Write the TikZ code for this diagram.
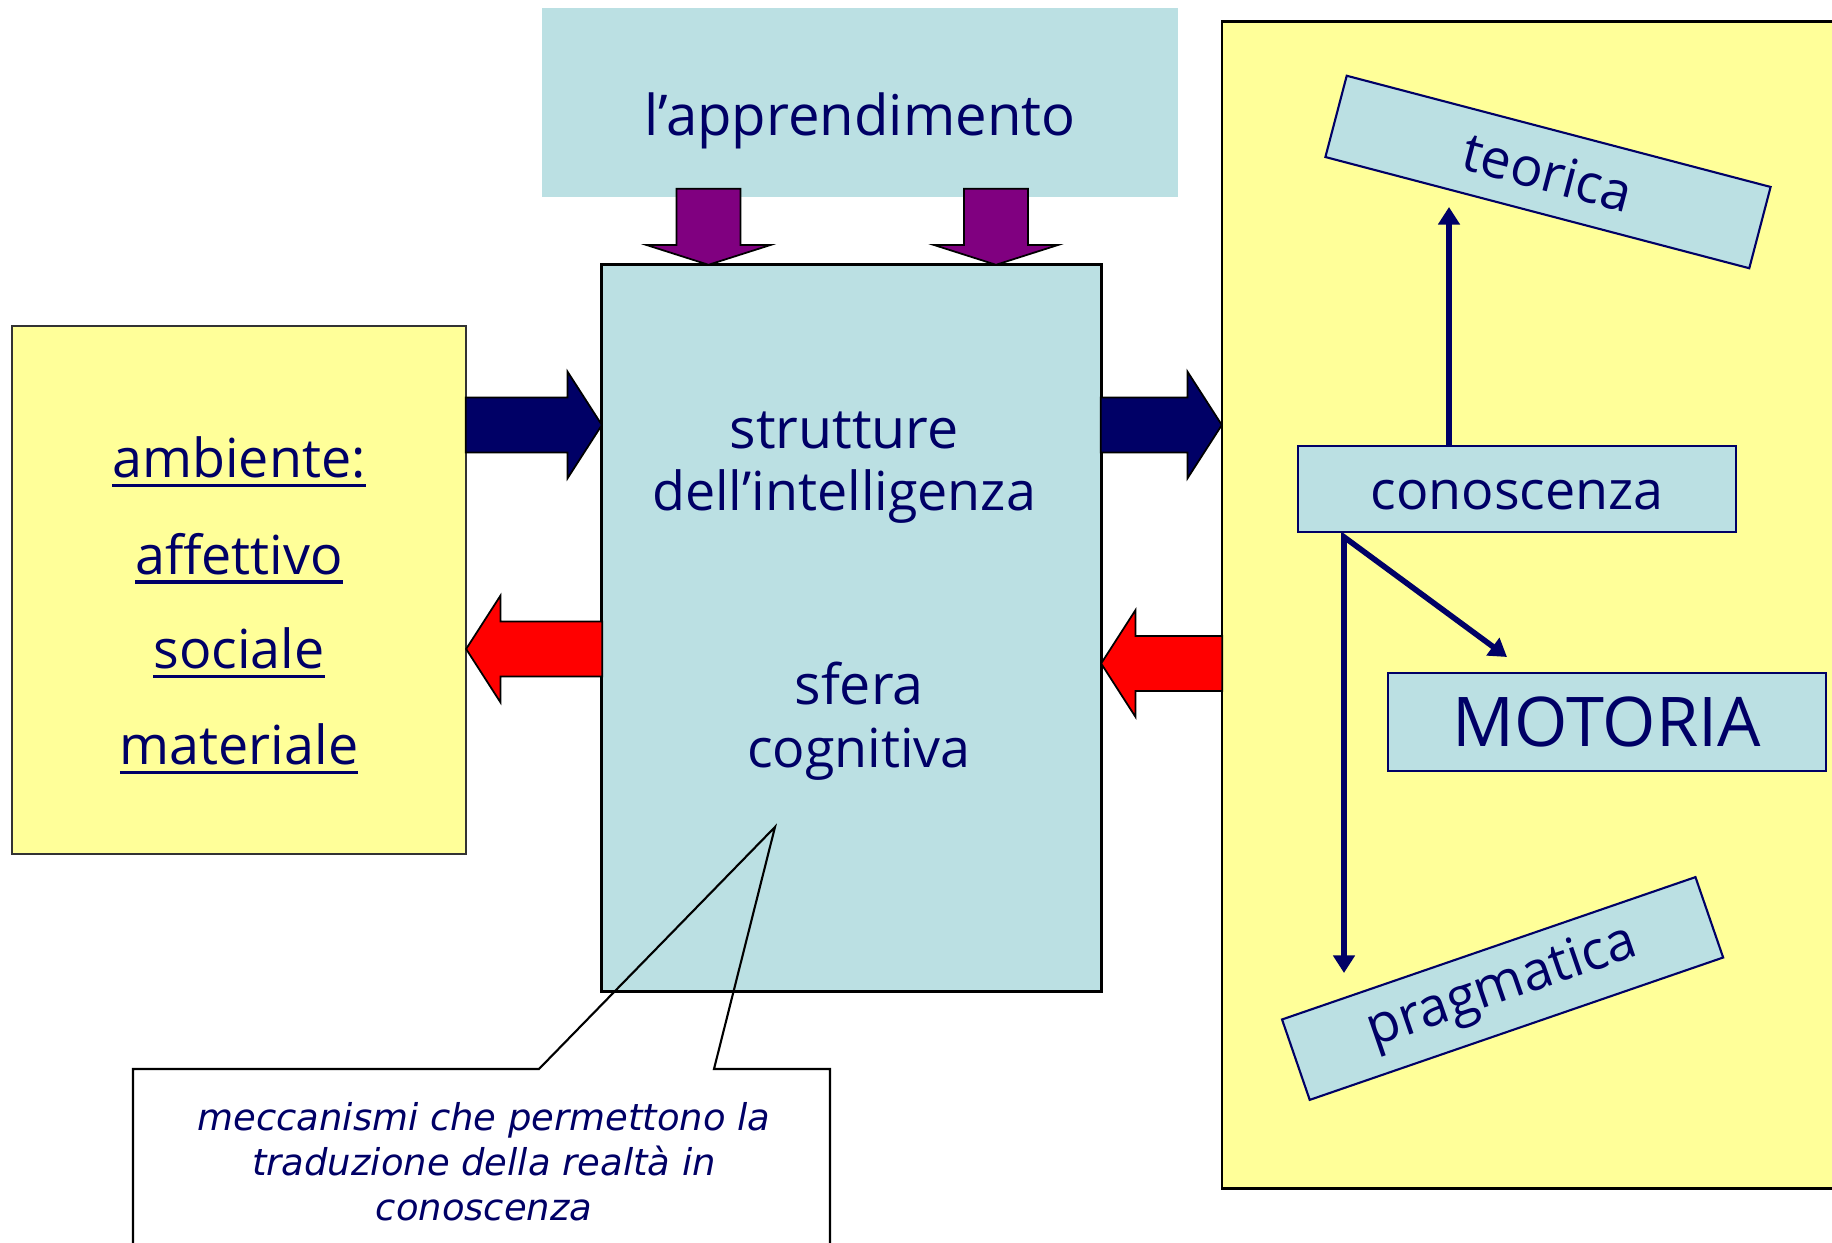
\documentclass[tikz,border=0pt]{standalone}
\usepackage{fontspec}
\setmainfont{Open Sans}
\newfontfamily\notefont{DejaVu Sans}
\usetikzlibrary{shapes.arrows, arrows.meta}
\definecolor{lightblue}{HTML}{BBE0E3}
\definecolor{paleyellow}{HTML}{FFFF99}
\definecolor{navy}{HTML}{000066}
\definecolor{violet}{HTML}{800080}
\newcommand{\bodysize}{\fontsize{15.3}{18}\selectfont}
\newcommand{\ulword}[1]{\setbox0\hbox{#1}\rlap{\rule[-2.7pt]{\wd0}{1.1pt}}\box0}
\tikzset{>={Triangle[width=6pt,length=5pt]}}

\begin{document}
\begin{tikzpicture}[x=0.01cm, y=-0.01cm,
  bluebox/.style={draw=black, fill=lightblue, line width=0.8pt, inner sep=0pt, outer sep=0pt},
  yellowbox/.style={draw=black!80, fill=paleyellow, line width=0.7pt, inner sep=0pt, outer sep=0pt},
  knowbox/.style={draw=navy, fill=lightblue, line width=0.6pt, text=navy, font=\bodysize, inner sep=0pt, outer sep=0pt},
  bodytext/.style={text=navy, font=\bodysize, inner sep=0pt},
  blockarrow/.style={single arrow, draw=black, line width=0.5pt, inner xsep=0pt, inner ysep=0.265cm, outer sep=0pt,
    minimum width=1.05cm, single arrow head extend=0.26cm, single arrow tip angle=114.5, anchor=tip},
  droparrow/.style={single arrow, draw=black, fill=violet, line width=0.5pt, inner xsep=0pt, inner ysep=0.31cm, outer sep=0pt,
    minimum height=0.76cm, minimum width=1.22cm, single arrow head extend=0.30cm, single arrow tip angle=144.6, anchor=tip},
  knowline/.style={draw=navy, line width=1.6pt},
  notetext/.style={text=navy, font=\notefont\itshape\fontsize{10.5}{12.76}\selectfont, align=center, inner sep=0pt}]
\useasboundingbox (0,0) rectangle (1832,1243);

% l'apprendimento
\node[bluebox, draw=none, minimum width=6.36cm, minimum height=1.89cm] (appr) at (860,102.5) {};
\node[bodytext, font=\fontsize{16}{19}\selectfont, anchor=base] (apprtxt) at (860,135.6) {l’apprendimento};

% the three big boxes
\node[bluebox, minimum width=4.99cm, minimum height=7.26cm] (cen) at (851.5,628) {};
\node[bodytext, anchor=base, font=\fontsize{15.8}{18}\selectfont] (strut) at (844,448.6) {strutture};
\node[bodytext, anchor=base] (intel) at (844,510.5) {dell’intelligenza};
\node[bodytext, anchor=base, font=\fontsize{15.8}{18}\selectfont] (sfera) at (859,704.5) {sfera};
\node[bodytext, anchor=base] (cogn) at (859,767.6) {cognitiva};

\node[yellowbox, minimum width=4.54cm, minimum height=5.28cm] (amb) at (239,590) {};
\foreach \w/\y [count=\i] in {ambiente:/478, affettivo/574.6, sociale/669, materiale/765}
  \node[bodytext, anchor=base] (amb\i) at (239,\y) {\ulword{\w}};

\node[yellowbox, draw=black, minimum width=6.38cm, minimum height=11.66cm] (know) at (1541,605) {};

% block arrows
\node[blockarrow, fill=navy, minimum height=1.36cm] (inL) at (cen.west |- 0,425) {};
\node[blockarrow, fill=navy, minimum height=1.21cm] (outR) at (know.west |- 0,425) {};
\node[blockarrow, fill=red, rotate=180, minimum height=1.36cm] (backL) at (amb.east |- 0,649) {};
\node[blockarrow, fill=red, rotate=180, minimum height=1.21cm] (backR) at (cen.east |- 0,663.5) {};
\node[droparrow, rotate=-90] (dropL) at (708.5,0 |- cen.north) {};
\node[droparrow, rotate=-90] (dropR) at (996,0 |- cen.north) {};

% conoscenza and its branches
\node[knowbox, minimum width=4.38cm, minimum height=0.86cm, text height=0.4cm, text depth=0pt] (con) at (1517,489) {conoscenza};
\node[knowbox, minimum width=4.38cm, minimum height=0.98cm, font=\fontsize{19.5}{23}\selectfont] (mot) at (1607,722) {MOTORIA};
\node[knowbox, minimum width=4.38cm, minimum height=0.84cm, rotate=-14.7] (teo) at (1548,172) {teorica};
\node[knowbox, minimum width=4.37cm, minimum height=0.85cm, rotate=19] (prag) at (1502.6,988.5) {pragmatica};

\coordinate (teoTip) at (1449,207);
\coordinate (fork) at (1344,537);
\coordinate (motTip) at (1507,657);
\coordinate (pragTip) at (1344,973);
\draw[knowline, ->] (1449,0 |- con.north) -- (teoTip);
\draw[knowline, <->] (pragTip) -- (fork) -- (motTip);

% callout
\coordinate (noteTip) at (775,827);
\draw[line width=0.6pt] (133,1260) |- (539,1069) -- (noteTip) -- (714,1069) -| (830,1260);
\node[notetext] (note) at (484,1162) {meccanismi che permettono la\\traduzione della realtà in\\conoscenza};
\end{tikzpicture}
\end{document}
